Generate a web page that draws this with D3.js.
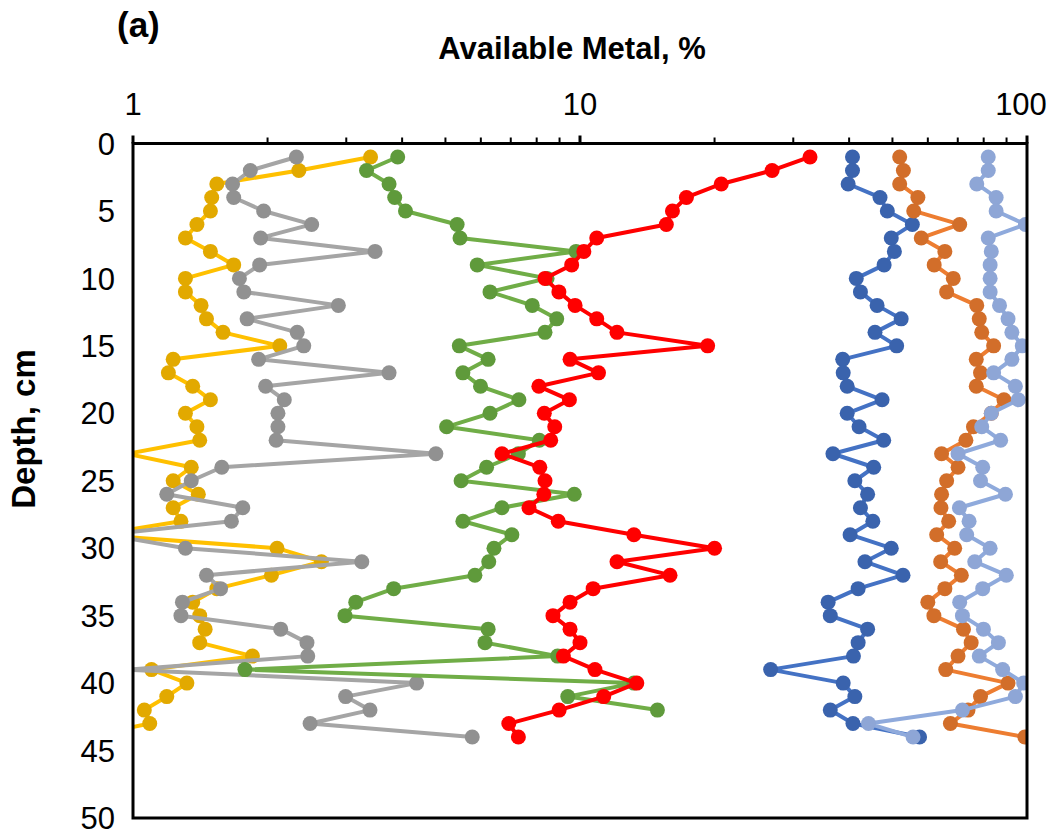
<!DOCTYPE html>
<html lang="en">
<head>
<meta charset="UTF-8">
<title>Available Metal vs Depth</title>
<script src="https://d3js.org/d3.v7.min.js"></script>
<style>
  body { margin: 0; background: #fff; }
  text { font-family: "Liberation Sans", Arial, sans-serif; fill: #000; }
  .tick-label { font-size: 31px; }
  .axis-title { font-size: 31px; font-weight: bold; }
</style>
</head>
<body>
<svg width="1062" height="838"></svg>
<script>
// depth (cm) for each sample
const depths = d3.range(1, 45);

// available metal, % (one value per depth)
const yellow = [3.40, 2.35, 1.54, 1.50, 1.49, 1.39, 1.31, 1.49, 1.68, 1.31,
  1.31, 1.42, 1.46, 1.59, 2.13, 1.23, 1.20, 1.36, 1.49, 1.31,
  1.39, 1.41, 0.97, 1.35, 1.23, 1.40, 1.23, 1.28, 0.83, 2.10,
  2.64, 2.04, 1.54, 1.36, 1.41, 1.45, 1.41, 1.85, 1.10, 1.32,
  1.19, 1.06, 1.09, 0.78];
const grey = [2.32, 1.83, 1.67, 1.68, 1.96, 2.51, 1.93, 3.48, 1.92, 1.73,
  1.77, 2.88, 1.80, 2.33, 2.41, 1.91, 3.74, 1.98, 2.18, 2.11,
  2.11, 2.09, 4.76, 1.58, 1.35, 1.19, 1.76, 1.66, 0.87, 1.31,
  3.25, 1.46, 1.57, 1.29, 1.28, 2.14, 2.45, 2.46, 0.97, 4.31,
  2.99, 3.39, 2.49, 5.74];
const green = [3.91, 3.33, 3.74, 3.85, 4.07, 5.31, 5.39, 9.80, 5.89, 8.44,
  6.29, 7.82, 8.87, 8.35, 5.37, 6.23, 5.47, 5.99, 7.30, 6.29,
  5.03, 8.11, 7.28, 6.18, 5.42, 9.71, 6.69, 5.47, 7.04, 6.42,
  6.25, 5.82, 3.83, 3.15, 2.98, 6.23, 6.13, 8.91, 1.78, 13.2,
  9.39, 14.9];
const red = [32.7, 26.9, 20.7, 17.3, 16.1, 15.6, 10.9, 10.2, 9.58, 8.35,
  8.97, 9.75, 10.9, 12.1, 19.3, 9.50, 11.0, 8.09, 9.47, 8.32,
  8.78, 8.60, 6.69, 8.13, 8.35, 8.30, 7.69, 8.94, 13.2, 20.0,
  12.1, 15.9, 10.7, 9.50, 8.70, 9.50, 10.0, 9.18, 10.8, 13.4,
  11.3, 8.98, 6.93, 7.28];
const blue = [40.7, 40.7, 39.8, 46.9, 48.7, 55.4, 49.7, 50.5, 47.9, 41.5,
  42.4, 46.2, 52.3, 45.7, 51.1, 38.7, 38.8, 39.6, 47.4, 39.6,
  42.1, 47.8, 36.8, 45.4, 41.2, 44.0, 42.4, 45.2, 40.2, 49.7,
  43.4, 52.8, 41.9, 35.9, 36.3, 44.0, 41.9, 40.9, 26.7, 38.8,
  41.2, 36.3, 40.8, 57.5];
const orange = [51.9, 52.9, 51.9, 57.0, 55.8, 70.7, 58.0, 65.5, 62.0, 68.4,
  66.1, 77.2, 78.2, 79.2, 84.2, 77.0, 78.7, 77.0, 88.8, 83.2,
  75.9, 73.0, 64.4, 70.1, 66.1, 64.4, 64.2, 66.8, 62.8, 68.9,
  64.1, 71.3, 65.5, 60.0, 61.9, 72.1, 75.0, 70.1, 65.8, 90.7,
  78.7, 73.8, 67.4, 98.9];
const lightBlue = [81.9, 81.9, 77.2, 85.3, 85.3, 99.2, 81.9, 83.2, 82.7, 82.7,
  82.7, 86.8, 90.7, 92.5, 97.6, 92.5, 84.2, 94.2, 95.6, 83.2,
  79.2, 87.3, 70.1, 79.6, 78.7, 89.5, 70.6, 74.2, 73.3, 82.7,
  76.4, 89.9, 79.6, 70.7, 71.7, 79.9, 86.3, 78.2, 88.2, 98.3,
  94.2, 71.7, 44.2, 55.6];

const xTicks = [1, 10, 100];
const yTicks = d3.range(0, 51, 5);

const series = [
  { values: yellow, line: "#FFC000", marker: "#E2A900" },
  { values: grey, line: "#A5A5A5", marker: "#919191" },
  { values: green, line: "#70AD47", marker: "#5F9A3B" },
  { values: red, line: "#FF0000", marker: "#FF0000" },
  { values: blue, line: "#4472C4", marker: "#3A63AD" },
  { values: orange, line: "#ED7D31", marker: "#D26E2A" },
  { values: lightBlue, line: "#8FAADC", marker: "#8EA6D6" }
];

const plotL = 133, plotR = 1027, plotT = 143.5, plotB = 818;

const x = d3.scaleLog().domain([1, 100]).range([plotL, plotR]);
const y = d3.scaleLinear().domain([0, 50]).range([plotT, plotB]);

const svg = d3.select("svg");

svg.append("defs").append("clipPath").attr("id", "plot")
  .append("rect")
  .attr("x", plotL).attr("y", plotT)
  .attr("width", plotR - plotL).attr("height", plotB - plotT);

// series
const g = svg.append("g").attr("clip-path", "url(#plot)");
const line = d3.line().x(d => x(d[1])).y(d => y(d[0]));

series.forEach(s => {
  const pts = s.values.map((v, i) => [depths[i], v]);
  g.append("path")
    .datum(pts)
    .attr("d", line)
    .attr("fill", "none")
    .attr("stroke", s.line)
    .attr("stroke-width", 4)
    .attr("stroke-linejoin", "round");
  g.selectAll(null)
    .data(pts)
    .enter().append("circle")
    .attr("cx", d => x(d[1]))
    .attr("cy", d => y(d[0]))
    .attr("r", 7.5)
    .attr("fill", s.marker);
});

// frame
svg.append("rect")
  .attr("x", plotL).attr("y", plotT)
  .attr("width", plotR - plotL).attr("height", plotB - plotT)
  .attr("fill", "none")
  .attr("stroke", "#000")
  .attr("stroke-width", 3);

// top axis ticks (major + minor)
const minor = d3.range(2, 10).flatMap(m => [m, m * 10]);
svg.selectAll(".minor")
  .data(minor)
  .enter().append("line")
  .attr("x1", d => x(d)).attr("x2", d => x(d))
  .attr("y1", plotT).attr("y2", plotT - 6)
  .attr("stroke", "#000").attr("stroke-width", 2);
svg.selectAll(".major")
  .data(xTicks)
  .enter().append("line")
  .attr("x1", d => x(d)).attr("x2", d => x(d))
  .attr("y1", plotT).attr("y2", plotT - 8)
  .attr("stroke", "#000").attr("stroke-width", 3);

// Excel pulls the last label back inside the chart area
svg.selectAll(".xlab")
  .data(xTicks)
  .enter().append("text")
  .attr("class", "tick-label")
  .attr("x", d => Math.min(x(d), 1021))
  .attr("y", 115)
  .attr("text-anchor", "middle")
  .text(d => d);

svg.selectAll(".ylab")
  .data(yTicks)
  .enter().append("text")
  .attr("class", "tick-label")
  .attr("x", 115)
  .attr("y", d => y(d))
  .attr("dy", "0.36em")
  .attr("text-anchor", "end")
  .text(d => d);

svg.append("text")
  .attr("class", "axis-title")
  .attr("x", 572).attr("y", 59)
  .attr("text-anchor", "middle")
  .text("Available Metal, %");

svg.append("text")
  .attr("class", "axis-title")
  .style("font-size", "33px")
  .attr("transform", "translate(35,429) rotate(-90)")
  .attr("text-anchor", "middle")
  .text("Depth, cm");

svg.append("text")
  .attr("x", 117).attr("y", 37)
  .style("font-size", "35px")
  .style("font-weight", "bold")
  .text("(a)");
</script>
</body>
</html>
